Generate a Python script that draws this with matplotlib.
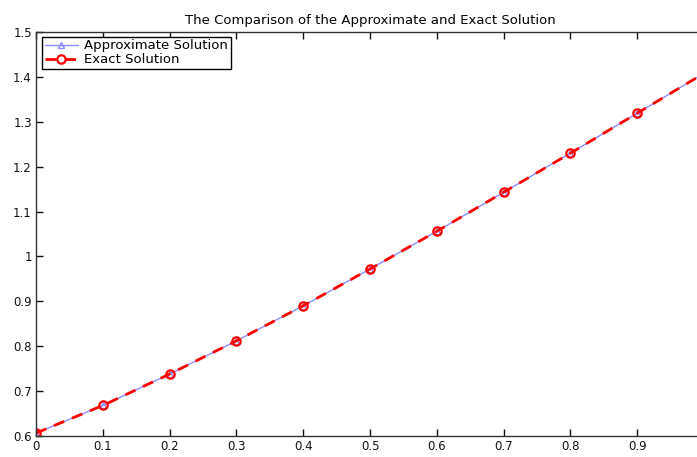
import matplotlib.pyplot as plt
from matplotlib.ticker import FormatStrFormatter

# values
x_nodes = [0.0, 0.1, 0.2, 0.3, 0.4, 0.5, 0.6, 0.7, 0.8, 0.9, 1.0]
approx_sol = [0.6065, 0.668, 0.738, 0.812, 0.890, 0.972, 1.056, 1.143, 1.230, 1.319, 1.408]
exact_sol = [0.6065, 0.668, 0.738, 0.812, 0.890, 0.972, 1.056, 1.143, 1.230, 1.319, 1.408]
x_ticks = [0.0, 0.1, 0.2, 0.3, 0.4, 0.5, 0.6, 0.7, 0.8, 0.9]
y_ticks = [0.6, 0.7, 0.8, 0.9, 1.0, 1.1, 1.2, 1.3, 1.4, 1.5]

plt.rcParams['font.family'] = ['DejaVu Sans']

fig = plt.figure(figsize=(6.97, 4.57), dpi=100)
# right edge of the axes falls just outside the picture, as in the original
ax = fig.add_axes([36/697, 1-436/457, 668/697, 404/457])

ax.plot(x_nodes, approx_sol, color='#8c8cff', lw=1.0, marker='^', ms=5,
        mfc='none', mec='#8c8cff', label='Approximate Solution')
ax.plot(x_nodes, exact_sol, color='red', lw=2.0, ls=(0, (4, 3)), marker='o', ms=6,
        mfc='none', mec='red', mew=1.6, label='Exact Solution')

ax.set_xlim(0, 1)
ax.set_ylim(0.6, 1.5)
ax.set_xticks(x_ticks)
ax.set_yticks(y_ticks)
ax.xaxis.set_major_formatter(FormatStrFormatter('%g'))
ax.yaxis.set_major_formatter(FormatStrFormatter('%g'))
ax.tick_params(direction='in', length=5, width=1, labelsize=8.5, colors='#111111',
               top=True, right=True, pad=3)
for sp in ax.spines.values():
    sp.set_linewidth(1.0)
    sp.set_color('#333333')

ax.set_title('The Comparison of the Approximate and Exact Solution', fontsize=9.5, pad=6)

leg = ax.legend(loc='upper left', bbox_to_anchor=(0.009, 0.988), borderaxespad=0,
                fontsize=9.5, fancybox=False, framealpha=1, edgecolor='black',
                handlelength=2.5, borderpad=0.2, labelspacing=0.05, handletextpad=0.5)
leg.get_frame().set_linewidth(1.0)

plt.savefig('out.png', dpi=100)
